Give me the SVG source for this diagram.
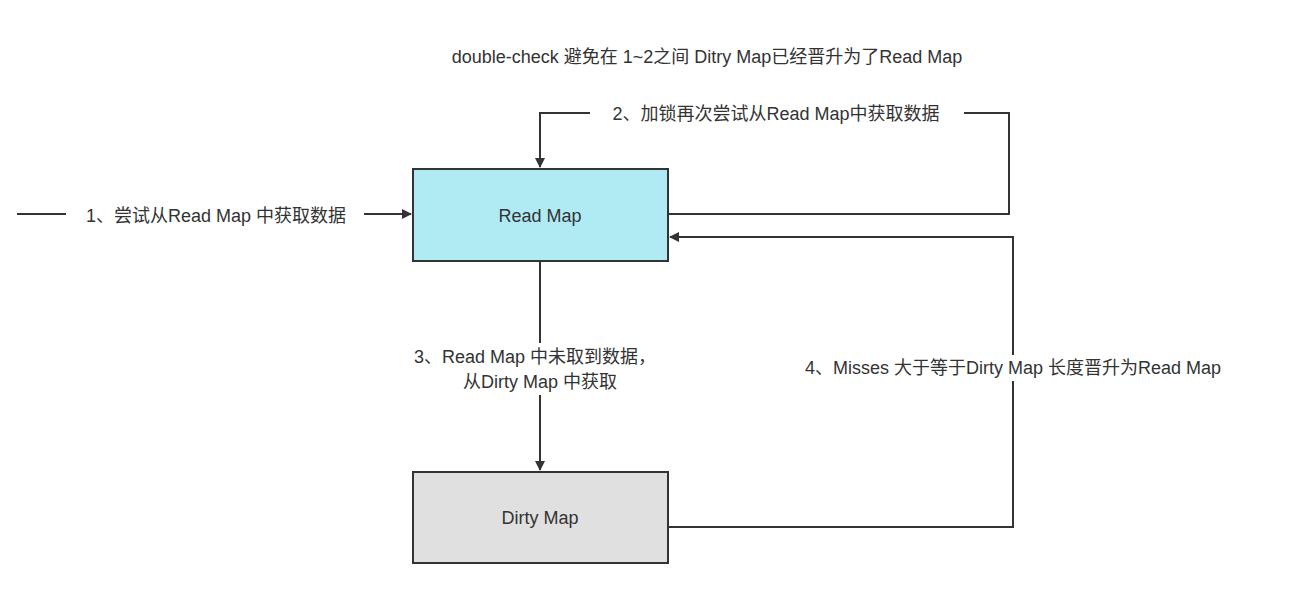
<svg xmlns="http://www.w3.org/2000/svg" width="1312" height="606" viewBox="0 0 1312 606">
<style>
text{font-family:"Liberation Sans","Noto Sans CJK SC",sans-serif;font-size:18px;fill:#333;text-anchor:middle;dominant-baseline:central}
.ln{fill:none;stroke:#333;stroke-width:2}
.bg{fill:#fff}
</style>
<defs><marker id="a" markerWidth="10" markerHeight="10" refX="9" refY="5" orient="auto" markerUnits="userSpaceOnUse"><path d="M0,0 L10,5 L0,10 Z" fill="#333"/></marker></defs>
<rect width="1312" height="606" fill="#fff"/>
<text x="707" y="57">double-check 避免在 1~2之间 Ditry Map已经晋升为了Read Map</text>
<g id="connectors">
<path class="ln" d="M17,214 H411" marker-end="url(#a)"/>
<rect class="bg" x="66" y="203" width="298" height="24"/>
<text x="216" y="216">1、尝试从Read Map 中获取数据</text>
<path class="ln" d="M668,214 H1009 V113 H540 V167" marker-end="url(#a)"/>
<rect class="bg" x="590" y="102" width="374" height="24"/>
<text x="776" y="114">2、加锁再次尝试从Read Map中获取数据</text>
<path class="ln" d="M540,261 V470" marker-end="url(#a)"/>
<rect class="bg" x="400" y="343" width="270" height="52"/>
<text x="535" y="357">3、Read Map 中未取到数据，</text>
<text x="540" y="382">从Dirty Map 中获取</text>
<path class="ln" d="M668,527 H1013 V237 H670" marker-end="url(#a)"/>
<rect class="bg" x="770" y="355" width="486" height="26"/>
<text x="1013" y="368">4、Misses 大于等于Dirty Map 长度晋升为Read Map</text>
</g>
<g id="read"><rect x="413" y="169" width="255" height="92" fill="#b0ebf3" stroke="#333" stroke-width="2"/><text x="540" y="216">Read Map</text></g>
<g id="dirty"><rect x="413" y="472" width="255" height="91" fill="#e0e0e0" stroke="#333" stroke-width="2"/><text x="540" y="518">Dirty Map</text></g>
</svg>
